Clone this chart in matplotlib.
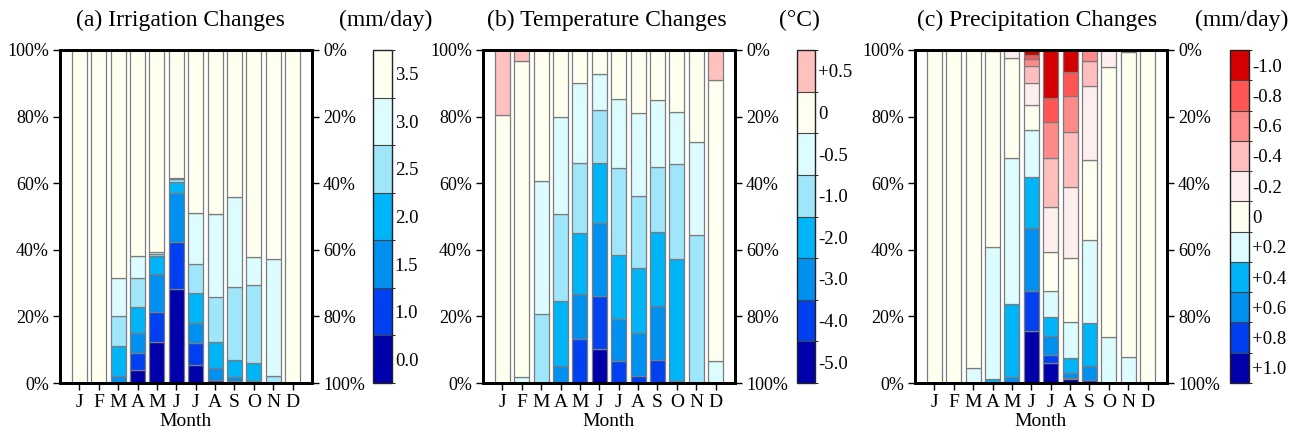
import numpy as np
import matplotlib
matplotlib.use("Agg")
import matplotlib.pyplot as plt
from matplotlib.colors import ListedColormap, BoundaryNorm
import matplotlib.colorbar as mcolorbar

plt.rcParams['font.family'] = ['Liberation Serif', 'DejaVu Serif']

months = ['J', 'F', 'M', 'A', 'M', 'J', 'J', 'A', 'S', 'O', 'N', 'D']

# ---- (a) Irrigation: share (%) of each level, per month ----
irr_levels = ['0.0', '1.0', '1.5', '2.0', '2.5', '3.0', '3.5']
irr_colors = ['#0000aa', '#0040f0', '#0090f0', '#00b4f8', '#a0e6fa', '#dcfcff', '#fffff0']
irr_shares = [  # rows = months, cols = levels
    [0, 0, 0, 0, 0, 0, 100],
    [0, 0, 0, 0, 0, 0, 100],
    [0, 0, 2.2, 9.0, 9.0, 11.4, 68.4],
    [3.8, 5.3, 5.8, 7.8, 8.9, 6.4, 62.0],
    [12.2, 9.1, 11.3, 5.4, 0.8, 0.5, 60.7],
    [28.1, 14.1, 14.9, 3.4, 0.7, 0.3, 38.5],
    [5.3, 6.8, 5.9, 9.0, 8.6, 15.5, 48.9],
    [0.3, 0.7, 3.6, 7.8, 13.3, 25.1, 49.2],
    [0.2, 0.3, 1.3, 5.2, 21.7, 27.1, 44.2],
    [0, 0, 0.7, 5.4, 23.3, 8.3, 62.3],
    [0, 0, 0, 0, 2.2, 34.9, 62.9],
    [0, 0, 0, 0, 0, 0, 100],
]

# ---- (b) Temperature ----
tmp_levels = ['-5.0', '-4.0', '-3.0', '-2.0', '-1.0', '-0.5', '0', '+0.5']
tmp_colors = ['#0000aa', '#0040f0', '#0090f0', '#00b4f8', '#a0e6fa', '#dcfcff', '#fffff0', '#ffc0c0']
tmp_shares = [
    [0, 0, 0, 0, 0, 0, 80.4, 19.6],
    [0, 0, 0, 0, 0, 1.8, 95.0, 3.2],
    [0, 0, 0, 0, 20.8, 40.0, 39.2, 0],
    [0, 0, 5.2, 19.3, 26.4, 29.1, 20.0, 0],
    [0, 13.2, 13.4, 18.5, 20.9, 24.1, 9.9, 0],
    [10.1, 15.9, 22.1, 18.0, 16.0, 10.8, 7.1, 0],
    [0, 6.5, 12.6, 19.2, 26.4, 20.5, 14.8, 0],
    [0, 2.2, 12.9, 19.5, 21.7, 24.8, 18.9, 0],
    [0, 7.0, 16.0, 22.3, 19.6, 20.1, 15.0, 0],
    [0, 0, 0.7, 36.6, 28.5, 15.7, 18.5, 0],
    [0, 0, 0, 0, 44.5, 27.8, 27.7, 0],
    [0, 0, 0, 0, 0, 6.6, 84.5, 8.9],
]

# ---- (c) Precipitation ----
pre_levels = ['+1.0', '+0.8', '+0.6', '+0.4', '+0.2', '0', '-0.2', '-0.4', '-0.6', '-0.8', '-1.0']
pre_colors = ['#0000aa', '#0040f0', '#0090f0', '#00b4f8', '#dcfcff', '#fffff0',
              '#ffeeee', '#ffbebe', '#ff8a8a', '#ff5555', '#d20000']
pre_shares = [
    [0, 0, 0, 0, 0, 100, 0, 0, 0, 0, 0],
    [0, 0, 0, 0, 0, 100, 0, 0, 0, 0, 0],
    [0, 0, 0, 0, 4.6, 95.4, 0, 0, 0, 0, 0],
    [0, 0, 0, 1.2, 39.7, 58.7, 0.4, 0, 0, 0, 0],
    [0, 0, 1.8, 22.0, 43.9, 29.8, 2.5, 0, 0, 0, 0],
    [15.7, 11.9, 19.0, 15.4, 14.1, 7.3, 6.7, 5.1, 2.0, 1.2, 1.6],
    [5.9, 2.5, 5.6, 5.7, 7.8, 11.7, 13.6, 14.9, 10.7, 7.3, 14.3],
    [1.1, 0.4, 1.5, 4.6, 10.7, 19.1, 21.4, 16.7, 10.8, 7.0, 6.7],
    [0, 1.0, 4.0, 13.1, 24.8, 24.1, 22.1, 7.6, 3.3, 0, 0],
    [0, 0, 0, 0, 13.7, 81.3, 5.0, 0, 0, 0, 0],
    [0, 0, 0, 0, 7.9, 91.6, 0.5, 0, 0, 0, 0],
    [0, 0, 0, 0, 0, 100, 0, 0, 0, 0, 0],
]

titles = ['(a) Irrigation Changes', '(b) Temperature Changes', '(c) Precipitation Changes']
units = ['(mm/day)', '(\u00b0C)', '(mm/day)']
pct_ticks = [0, 20, 40, 60, 80, 100]

W, H = 1302, 434
fig = plt.figure(figsize=(W / 100, H / 100), dpi=100)


def rect(x0, x1, y0, y1):
    return [x0 / W, 1 - y1 / H, (x1 - x0) / W, (y1 - y0) / H]


panels = [
    (irr_shares, irr_colors, irr_levels, (60, 312), (373, 392), 180, 386),
    (tmp_shares, tmp_colors, tmp_levels, (483, 735), (797, 815), 607, 799),
    (pre_shares, pre_colors, pre_levels, (915, 1167), (1230, 1249), 1037, 1242),
]

FS = 13
for i, (shares, colors, levels, (ax0, ax1), (cb0, cb1), tx, ux) in enumerate(panels):
    ax = fig.add_axes(rect(ax0, ax1, 50, 383))
    s = np.array(shares, dtype=float)
    x = np.arange(1, 13)
    bottom = np.zeros(12)
    for k in range(s.shape[1]):
        ax.bar(x, s[:, k], bottom=bottom, width=0.78, color=colors[k],
               edgecolor='#7c7c7c', linewidth=0.9, zorder=2)
        bottom += s[:, k]
    ax.set_xlim(0, 13)
    ax.set_ylim(0, 100)
    ax.set_xticks(x)
    ax.set_xticklabels(months, fontsize=14)
    ax.set_yticks(pct_ticks)
    ax.set_yticklabels([f'{v}%' for v in pct_ticks], fontsize=FS)
    ax.tick_params(direction='out', length=5, width=1, pad=3)
    for sp in ax.spines.values():
        sp.set_linewidth(2)
    ax.set_xlabel('Month', fontsize=14, labelpad=1)
    ax2 = ax.twinx()
    ax2.set_ylim(100, 0)
    ax2.set_yticks(pct_ticks)
    ax2.set_yticklabels([f'{v}%' for v in pct_ticks], fontsize=FS)
    ax2.tick_params(direction='out', length=5, width=1, pad=3)
    for sp in ax2.spines.values():
        sp.set_linewidth(2)

    fig.text(tx / W, 1 - 20 / H, titles[i], fontsize=17, ha='center', va='center')
    fig.text(ux / W, 1 - 20 / H, units[i], fontsize=17, ha='center', va='center')

    cax = fig.add_axes(rect(cb0, cb1, 50, 383))
    n = len(levels)
    cmap = ListedColormap(colors)
    norm = BoundaryNorm(np.arange(n + 1), n)
    cb = mcolorbar.ColorbarBase(cax, cmap=cmap, norm=norm, orientation='vertical',
                                ticks=np.arange(n) + 0.5, drawedges=True)
    cb.ax.set_yticklabels(levels, fontsize=13.5)
    cb.ax.tick_params(length=0, pad=2)
    cb.outline.set_linewidth(1)
    cb.outline.set_edgecolor('#222222')
    cb.dividers.set_color('#444444')
    cb.dividers.set_linewidth(0.8)

fig.savefig('out.png', dpi=100)
